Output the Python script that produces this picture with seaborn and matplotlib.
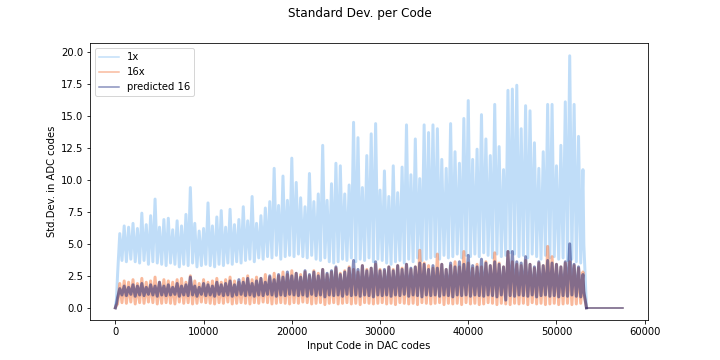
import numpy as np
import pandas as pd
import matplotlib
import matplotlib.pyplot as plt
import seaborn as sns

matplotlib.use("Agg")

# std. dev. per code in bins of 500 DAC codes
# "lo" = bottom of the noisy band in the bin, "hi" = top / spike in the bin
bin_width = 500
n_bins = 106

one_x_lo = [2.6,
            3.7, 3.6, 3.8, 3.6, 3.5, 3.7, 3.4, 3.6, 3.5, 3.4,
            3.3, 3.5, 3.4, 3.2, 3.4, 3.3, 3.5, 3.2, 3.3, 3.4,
            3.3, 3.2, 3.4, 3.3, 3.5, 3.4, 3.6, 3.5, 3.7, 3.8,
            3.6, 3.9, 3.8, 4.0, 3.9, 4.1, 3.8, 4.0, 4.1, 4.0,
            4.2, 4.0, 3.9, 4.1, 3.8, 3.7, 3.9, 3.6, 3.5, 3.6,
            3.8, 3.7, 3.9, 3.6, 3.8, 3.7, 3.9, 3.6, 3.8, 3.7,
            3.5, 3.4, 3.6, 3.7, 3.5, 3.8, 3.6, 3.9, 3.7, 3.8,
            3.9, 4.0, 3.8, 4.1, 3.9, 4.0, 4.2, 3.9, 4.1, 4.0,
            4.2, 4.0, 4.3, 4.1, 3.9, 4.2, 4.0, 4.1, 4.3, 4.2,
            4.0, 4.1, 3.9, 4.2, 4.0, 3.8, 4.1, 3.9, 4.0, 3.8,
            3.9, 3.7, 3.8, 3.6, 3.5]
one_x_hi = [5.8,
            6.4, 6.3, 6.6, 6.2, 7.4, 6.5, 7.2, 8.5, 6.3, 6.9,
            7.0, 6.1, 6.8, 6.4, 7.3, 9.4, 6.6, 6.0, 6.2, 8.2,
            6.4, 7.1, 7.6, 6.3, 7.7, 6.5, 6.9, 7.9, 6.8, 8.7,
            6.6, 7.2, 7.8, 8.3, 10.9, 8.0, 10.3, 8.4, 11.7, 9.8,
            8.6, 7.9, 10.5, 8.3, 8.9, 12.7, 8.4, 9.7, 11.3, 11.1,
            8.9, 9.6, 14.5, 13.3, 9.4, 11.9, 13.6, 14.4, 9.2, 10.7,
            8.7, 11.1, 9.0, 11.0, 14.3, 10.4, 13.2, 10.1, 14.3, 13.7,
            14.3, 14.0, 11.6, 10.9, 14.4, 12.2, 11.3, 14.8, 16.2, 11.6,
            12.4, 15.1, 13.2, 11.9, 15.9, 12.6, 10.8, 17.0, 17.1, 17.4,
            14.0, 15.8, 15.4, 12.9, 10.9, 12.2, 15.9, 15.9, 11.1, 12.7,
            16.1, 19.7, 15.9, 13.4, 10.8]

x16_lo = [0.3,
          0.4, 0.35, 0.45, 0.3, 0.4, 0.35, 0.45, 0.4, 0.3, 0.35,
          0.4, 0.35, 0.3, 0.45, 0.35, 0.4, 0.3, 0.35, 0.45, 0.4,
          0.35, 0.3, 0.4, 0.35, 0.45, 0.3, 0.35, 0.4, 0.35, 0.3,
          0.4, 0.35, 0.45, 0.4, 0.3, 0.35, 0.4, 0.35, 0.3, 0.4,
          0.35, 0.45, 0.4, 0.3, 0.35, 0.4, 0.25, 0.35, 0.4, 0.3,
          0.35, 0.4, 0.3, 0.35, 0.25, 0.4, 0.35, 0.3, 0.35, 0.4,
          0.3, 0.35, 0.25, 0.4, 0.35, 0.3, 0.35, 0.25, 0.4, 0.35,
          0.3, 0.35, 0.4, 0.25, 0.35, 0.3, 0.35, 0.25, 0.4, 0.3,
          0.35, 0.25, 0.3, 0.4, 0.35, 0.25, 0.35, 0.3, 0.25, 0.35,
          0.3, 0.35, 0.25, 0.4, 0.3, 0.35, 0.25, 0.3, 0.35, 0.25,
          0.3, 0.35, 0.25, 0.3, 0.35]
x16_hi = [1.9,
          2.1, 2.0, 2.2, 1.9, 2.3, 2.0, 2.1, 2.4, 2.0, 2.2,
          2.1, 2.0, 2.2, 2.3, 2.0, 2.5, 2.1, 1.9, 2.2, 2.0,
          2.1, 2.3, 2.0, 2.2, 2.4, 2.1, 2.0, 2.3, 2.5, 2.2,
          2.4, 2.3, 2.6, 2.4, 2.7, 2.5, 2.8, 2.6, 2.9, 2.7,
          2.6, 2.8, 2.5, 2.9, 2.7, 3.0, 2.6, 2.8, 3.1, 2.7,
          2.9, 3.2, 3.0, 2.8, 3.3, 3.0, 3.1, 3.4, 3.0, 2.9,
          3.2, 3.0, 3.3, 3.1, 3.4, 3.0, 3.2, 4.5, 3.5, 3.3,
          3.1, 4.2, 3.4, 3.0, 3.3, 3.6, 3.2, 4.4, 3.5, 3.1,
          3.4, 3.2, 3.6, 3.3, 4.3, 3.5, 3.2, 4.4, 3.6, 3.4,
          3.3, 3.7, 3.4, 3.1, 3.5, 3.3, 4.8, 4.0, 3.4, 3.2,
          3.5, 3.6, 3.3, 3.1, 2.8]

pred_lo = [0.8,
           1.0, 0.95, 1.05, 0.9, 1.0, 0.95, 1.05, 1.0, 0.9, 1.0,
           0.95, 1.0, 1.05, 0.9, 1.0, 0.95, 1.0, 0.9, 1.05, 0.95,
           1.0, 0.9, 1.05, 0.95, 1.0, 0.9, 1.0, 1.05, 0.95, 1.0,
           0.9, 1.0, 0.95, 1.05, 1.0, 0.9, 1.0, 0.95, 1.05, 1.0,
           0.95, 1.0, 0.9, 1.05, 0.95, 1.0, 0.85, 1.0, 0.95, 1.0,
           0.9, 1.05, 0.95, 1.0, 0.9, 1.0, 0.95, 0.85, 1.0, 0.95,
           1.0, 0.9, 1.0, 0.95, 1.05, 0.9, 1.0, 0.95, 0.85, 1.0,
           0.95, 1.0, 0.9, 1.0, 0.95, 0.85, 1.0, 0.95, 1.0, 0.9,
           1.0, 0.95, 0.9, 1.0, 0.95, 0.85, 1.0, 0.6, 0.95, 0.9,
           1.0, 0.95, 0.9, 1.0, 0.85, 0.95, 1.0, 0.9, 0.95, 0.85,
           0.95, 0.9, 1.0, 0.9, 0.85]
pred_hi = [1.5,
           1.7, 1.6, 1.8, 1.7, 1.9, 1.6, 1.8, 1.7, 2.0, 1.7,
           1.8, 1.6, 1.9, 1.7, 1.8, 2.4, 1.7, 1.6, 1.9, 1.8,
           1.7, 2.0, 1.8, 1.9, 2.1, 1.8, 2.2, 2.0, 2.3, 1.9,
           2.1, 2.3, 2.0, 2.5, 2.2, 2.6, 2.4, 2.8, 2.5, 2.7,
           2.4, 2.9, 2.6, 2.8, 2.5, 3.0, 2.7, 2.9, 3.2, 2.6,
           2.8, 3.1, 3.7, 3.0, 3.3, 2.9, 3.1, 3.6, 2.9, 3.0,
           3.2, 2.9, 3.3, 3.0, 3.4, 3.1, 3.2, 3.5, 3.4, 3.0,
           3.3, 3.1, 3.4, 3.0, 3.5, 3.2, 3.6, 3.4, 4.1, 3.3,
           3.2, 3.8, 3.5, 3.3, 3.6, 3.4, 3.2, 4.4, 4.4, 3.6,
           3.5, 4.0, 3.4, 3.2, 3.6, 3.3, 3.7, 3.5, 3.4, 3.2,
           3.6, 5.0, 3.4, 3.2, 2.6]

# start (ramp up from code 0) and end (drop to zero at the last active code)
head_codes = [0, 120]
head_1x = [0.0, 0.6]
head_16x = [0.0, 0.2]
head_pred = [0.0, 0.3]
drop_codes = [53100, 53400]
drop_1x = [5.0, 0.0]
drop_16x = [1.1, 0.0]
drop_pred = [1.3, 0.0]
# flat zero part after the drop
flat_codes = [53400, 57500]
flat_vals = [0.0, 0.0]


def build_series(head, lo, hi, drop):
    codes = list(head_codes)
    vals = list(head)
    for k in range(n_bins):
        codes += [k * bin_width + bin_width / 2, (k + 1) * bin_width]
        vals += [lo[k], hi[k]]
    codes += drop_codes
    vals += drop
    return np.array(codes), np.array(vals)


fig, ax = plt.subplots(figsize=(10, 5), dpi=72)

series = [("1x", head_1x, one_x_lo, one_x_hi, drop_1x, "#82bdf2"),
          ("16x", head_16x, x16_lo, x16_hi, drop_16x, "#f4743a"),
          ("predicted 16", head_pred, pred_lo, pred_hi, drop_pred, "#10207a")]

for name, head, lo, hi, drop, col in series:
    codes, vals = build_series(head, lo, hi, drop)
    sns.lineplot(x=codes, y=vals, ax=ax, color=col, alpha=0.5, lw=3.0,
                 label=name, estimator=None, sort=False)
    sns.lineplot(x=flat_codes, y=flat_vals, ax=ax, color=col, alpha=0.5,
                 lw=1.5, estimator=None, sort=False)

fig.suptitle("Standard Dev. per Code")
ax.set_xlabel("Input Code in DAC codes")
ax.set_ylabel("Std.Dev. in ADC codes")
ax.set_yticks(np.arange(0, 20.1, 2.5))
leg = ax.legend(loc="upper left")
for h in leg.get_lines():
    h.set_linewidth(1.5)

fig.savefig("out.png", dpi=72)
